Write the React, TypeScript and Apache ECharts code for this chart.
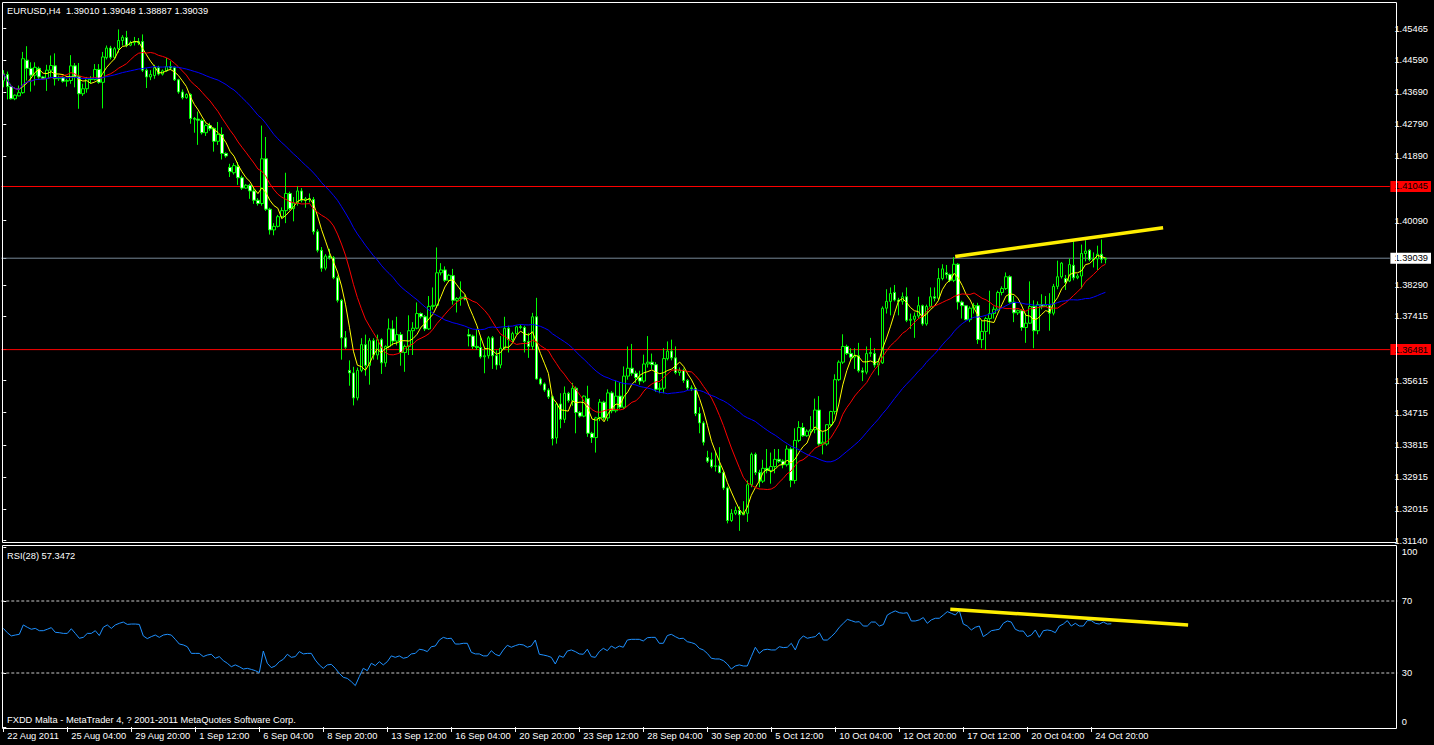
import React, { useEffect, useRef } from 'react';
import * as echarts from 'echarts';

// [open, close, low, high] in 1/10000 units (EURUSD, H4)
const candles: number[][] = [
[14400,14420,14382,14430],[14418,14384,14348,14426],[14384,14350,14348,14392],[14350,14360,14346,14362],[14358,14367,14357,14387],
[14367,14462,14364,14481],[14458,14435,14401,14497],[14435,14416,14370,14452],[14416,14438,14387,14452],[14435,14411,14406,14440],
[14411,14407,14403,14414],[14407,14430,14372,14445],[14430,14443,14411,14471],[14442,14406,14387,14477],[14406,14410,14400,14415],
[14410,14399,14395,14414],[14399,14401,14384,14406],[14401,14442,14392,14472],[14442,14413,14382,14450],[14413,14364,14322,14450],
[14364,14378,14358,14392],[14378,14406,14367,14411],[14406,14404,14392,14413],[14404,14432,14401,14447],[14432,14396,14392,14447],
[14396,14467,14323,14481],[14465,14492,14460,14499],[14492,14466,14460,14498],[14466,14490,14460,14495],[14490,14513,14479,14544],
[14513,14522,14499,14528],[14521,14500,14494,14540],[14500,14507,14497,14512],[14507,14510,14499,14523],[14510,14507,14500,14520],
[14510,14430,14425,14530],[14430,14411,14380,14435],[14411,14418,14402,14430],[14415,14437,14406,14445],[14437,14419,14415,14442],
[14419,14428,14415,14432],[14428,14440,14425,14464],[14440,14436,14430,14455],[14437,14403,14400,14440],[14403,14369,14364,14406],
[14369,14353,14348,14376],[14353,14362,14350,14365],[14362,14295,14280,14365],[14295,14293,14255,14299],[14293,14290,14221,14314],
[14289,14255,14250,14294],[14255,14275,14246,14280],[14275,14266,14260,14283],[14267,14231,14202,14270],[14231,14250,14221,14285],
[14250,14197,14180,14270],[14197,14190,14185,14200],[14158,14146,14131,14168],[14143,14163,14138,14170],[14160,14129,14109,14173],
[14129,14100,14095,14135],[14100,14108,14098,14111],[14108,14092,14070,14112],[14092,14066,14056,14100],[14066,14057,14051,14072],
[14057,14182,14051,14275],[14182,14041,14036,14243],[14041,13983,13970,14045],[13983,13993,13968,14002],[13993,14020,13990,14025],
[14020,14037,14015,14046],[14037,14085,14002,14143],[14085,14043,14038,14090],[14043,14058,14007,14075],[14058,14092,14051,14105],
[14092,14066,14060,14100],[14066,14070,14045,14075],[14070,14068,14060,14085],[14068,13978,13970,14075],[13978,13926,13920,13985],
[13926,13876,13866,13935],[13876,13910,13870,13915],[13910,13905,13900,13930],[13905,13849,13845,13910],[13849,13786,13780,13855],
[13786,13681,13620,13790],[13681,13655,13650,13700],[13590,13583,13547,13618],[13583,13513,13492,13600],[13513,13590,13506,13598],
[13590,13662,13585,13680],[13662,13604,13575,13690],[13604,13673,13550,13680],[13673,13633,13620,13680],[13633,13676,13620,13690],
[13676,13611,13580,13680],[13611,13657,13600,13660],[13657,13706,13652,13735],[13706,13672,13660,13730],[13672,13690,13660,13740],
[13690,13640,13603,13697],[13640,13657,13586,13662],[13657,13701,13633,13744],[13701,13708,13633,13725],[13708,13749,13705,13780],
[13749,13740,13735,13752],[13740,13706,13700,13745],[13706,13769,13703,13798],[13769,13772,13760,13822],[13772,13863,13765,13934],
[13863,13871,13856,13890],[13871,13842,13837,13881],[13842,13856,13838,13860],[13855,13786,13774,13874],[13786,13791,13752,13795],
[13791,13795,13771,13839],[13795,13790,13786,13800],[13690,13686,13657,13706],[13686,13657,13650,13690],[13657,13654,13647,13706],
[13654,13628,13623,13683],[13628,13631,13582,13652],[13631,13681,13623,13686],[13681,13631,13594,13686],[13631,13605,13592,13646],
[13605,13652,13596,13686],[13652,13708,13647,13740],[13708,13676,13640,13715],[13676,13693,13668,13698],[13693,13712,13690,13715],
[13712,13710,13705,13718],[13710,13671,13640,13715],[13671,13657,13625,13695],[13657,13740,13647,13751],[13740,13566,13564,13793],
[13566,13552,13548,13570],[13552,13535,13530,13556],[13535,13516,13510,13540],[13516,13399,13380,13520],[13401,13496,13385,13500],
[13496,13453,13428,13526],[13453,13526,13443,13545],[13526,13506,13500,13530],[13506,13540,13491,13555],[13540,13472,13414,13545],
[13472,13462,13458,13476],[13462,13518,13459,13520],[13511,13414,13404,13547],[13414,13402,13387,13418],[13402,13457,13360,13460],
[13457,13501,13448,13510],[13501,13457,13450,13505],[13457,13527,13448,13537],[13527,13477,13470,13532],[13477,13518,13472,13560],
[13518,13487,13482,13557],[13487,13574,13482,13601],[13574,13596,13564,13657],[13596,13582,13575,13664],[13582,13570,13555,13589],
[13570,13560,13550,13589],[13560,13608,13555,13634],[13608,13613,13598,13686],[13613,13606,13594,13637],[13606,13537,13530,13613],
[13537,13540,13526,13555],[13540,13623,13526,13652],[13623,13644,13618,13671],[13644,13625,13618,13676],[13625,13584,13579,13657],
[13584,13590,13575,13598],[13590,13562,13555,13595],[13562,13541,13535,13566],[13541,13539,13532,13548],[13539,13469,13462,13542],
[13469,13443,13414,13487],[13443,13389,13380,13448],[13346,13336,13331,13365],[13340,13321,13316,13360],[13321,13323,13307,13365],
[13323,13304,13302,13375],[13304,13261,13255,13308],[13261,13170,13162,13265],[13170,13190,13166,13202],[13190,13198,13185,13209],
[13198,13186,13141,13209],[13186,13193,13185,13224],[13190,13270,13166,13282],[13270,13355,13263,13360],[13355,13304,13297,13360],
[13304,13280,13263,13312],[13280,13316,13275,13340],[13316,13310,13302,13370],[13310,13321,13273,13360],[13321,13341,13302,13370],
[13341,13336,13331,13370],[13336,13326,13316,13341],[13326,13370,13321,13380],[13370,13282,13263,13375],[13282,13394,13273,13428],
[13394,13430,13389,13448],[13430,13407,13404,13443],[13407,13420,13404,13425],[13420,13424,13414,13462],[13424,13479,13414,13511],
[13479,13384,13379,13518],[13384,13389,13355,13418],[13384,13438,13379,13440],[13438,13475,13433,13477],[13475,13564,13467,13579],
[13564,13613,13560,13618],[13613,13657,13608,13691],[13657,13637,13633,13662],[13637,13627,13618,13652],[13627,13631,13594,13652],
[13631,13589,13584,13667],[13589,13585,13560,13598],[13585,13637,13579,13657],[13637,13640,13628,13681],[13637,13605,13598,13652],
[13605,13611,13576,13623],[13611,13764,13608,13769],[13764,13783,13749,13817],[13783,13805,13744,13822],[13808,13787,13783,13829],
[13787,13783,13744,13793],[13783,13796,13774,13808],[13796,13730,13725,13822],[13730,13733,13706,13749],[13733,13742,13681,13752],
[13742,13771,13735,13796],[13771,13720,13715,13774],[13720,13769,13715,13774],[13769,13796,13764,13822],[13796,13792,13783,13822],
[13792,13847,13786,13876],[13847,13874,13842,13887],[13863,13858,13847,13885],[13858,13842,13837,13861],[13842,13887,13837,13907],
[13887,13781,13760,13890],[13781,13771,13735,13785],[13771,13732,13730,13771],[13732,13764,13725,13769],[13764,13771,13749,13779],
[13771,13676,13664,13779],[13676,13699,13652,13730],[13699,13735,13647,13740],[13735,13749,13691,13813],[13749,13761,13735,13769],
[13761,13808,13757,13813],[13808,13819,13800,13825],[13819,13852,13815,13864],[13852,13781,13777,13856],[13781,13751,13725,13798],
[13751,13757,13745,13760],[13757,13710,13701,13761],[13710,13722,13667,13749],[13722,13769,13720,13839],[13769,13701,13652,13786],
[13701,13774,13691,13783],[13774,13769,13761,13803],[13769,13773,13768,13798],[13771,13750,13701,13806],[13750,13825,13744,13832],
[13825,13852,13817,13897],[13852,13890,13847,13893],[13847,13836,13815,13857],[13840,13886,13837,13903],[13884,13849,13842,13952],
[13849,13854,13845,13860],[13854,13917,13819,13942],[13917,13924,13895,13954],[13926,13900,13895,13929],[13900,13902,13878,13920],
[13902,13915,13871,13939],[13915,13901,13890,13956],[13901,13904,13889,13905]
];

const rsi28: number[] = [
54.8,52.4,50.6,51.1,51.5,56.7,55.4,54.3,54.8,53.5,53.5,54.3,55.2,52.6,52.4,52.0,52.0,54.6,52.0,49.3,
49.8,52.0,52.0,53.5,50.8,55.4,56.7,54.8,56.7,57.6,58.3,57.0,57.2,57.2,57.0,50.6,49.1,50.2,51.1,49.8,
51.1,51.5,51.1,48.7,46.1,45.6,44.6,40.9,40.9,40.9,39.1,40.0,40.4,38.2,39.1,36.9,35.4,33.5,34.5,33.5,
32.2,32.6,32.0,31.3,30.2,42.2,35.4,33.0,33.9,36.3,37.6,40.4,38.7,39.1,41.9,40.6,40.9,40.9,37.2,34.5,
32.6,34.5,34.8,32.6,29.8,27.6,27.0,25.2,23.0,28.0,32.6,31.3,35.4,34.1,36.3,34.5,36.3,39.5,38.7,39.5,
38.2,38.7,40.6,40.9,43.2,42.8,41.9,44.6,45.0,48.3,49.8,49.1,49.3,46.1,46.1,46.5,46.5,41.5,40.6,40.6,
39.5,39.5,42.4,40.4,39.5,42.8,45.4,44.3,45.2,45.9,45.6,44.3,45.0,48.3,40.4,40.0,39.5,38.7,35.0,39.6,
38.7,42.2,42.8,41.9,40.6,40.4,43.2,39.1,38.7,41.9,43.7,42.4,45.0,43.7,45.0,44.3,48.3,48.7,48.7,48.7,
47.8,49.6,49.8,49.8,46.5,46.5,50.8,51.5,50.2,49.1,49.3,47.4,46.9,46.1,43.7,42.8,40.9,38.2,37.8,37.8,
36.9,35.0,32.2,33.9,34.5,33.9,33.9,39.1,44.3,40.9,42.8,43.2,42.8,42.8,44.6,44.1,44.3,46.5,42.8,48.3,
50.6,49.3,49.8,50.2,52.4,48.3,48.3,50.2,52.4,55.4,57.6,59.8,59.1,58.3,58.5,56.1,56.1,58.3,58.3,56.1,
56.9,62.2,63.5,64.5,63.5,63.2,63.5,58.9,58.9,59.5,60.8,57.6,59.5,60.4,60.4,62.2,64.1,63.2,62.2,64.6,
57.2,56.1,53.9,55.4,56.1,50.2,51.7,53.5,53.9,54.3,57.6,58.9,58.3,54.3,53.3,53.3,50.2,51.1,53.9,49.8,
53.5,53.9,53.5,52.4,56.1,57.2,59.1,56.1,57.6,56.1,56.1,59.1,59.1,57.6,57.2,58.3,57.2,57.35
];

const xLabels = ['22 Aug 2011','25 Aug 04:00','29 Aug 20:00','1 Sep 12:00','6 Sep 04:00','8 Sep 20:00','13 Sep 12:00',
  '16 Sep 04:00','20 Sep 20:00','23 Sep 12:00','28 Sep 04:00','30 Sep 20:00','5 Oct 12:00','10 Oct 04:00',
  '12 Oct 20:00','17 Oct 12:00','20 Oct 04:00','24 Oct 20:00'];
const priceTicks = [1.45465,1.4459,1.4369,1.4279,1.4189,1.41045,1.4009,1.39039,1.3829,1.37415,1.36481,1.35615,1.34715,1.33815,1.32915,1.32015,1.3114];
const rsiTicks = [100, 70, 30, 0];
const rsiLevels = [70, 30];
const redLevels = [1.41045, 1.36481];
const bidLevel = 1.39039;
const priceTrend = [[239.25, 1.39086], [291.5, 1.39892]];
const rsiTrend = [[236.75, 65.4], [296.2, 56.7]];
const maSpecs = [
  { period: 5, color: '#ffff00' },
  { period: 13, color: '#ff0000' },
  { period: 34, color: '#0000ff' },
];
const titleText = 'EURUSD,H4  1.39010 1.39048 1.38887 1.39039';
const rsiText = 'RSI(28) 57.3472';
const footerText = 'FXDD Malta - MetaTrader 4, ? 2001-2011 MetaQuotes Software Corp.';

const SLOTS = 349;
const BARS_PER_LABEL = 16;
const FONT = '"Liberation Sans", Arial, sans-serif';
const FS = 9.3;

export default function App() {
  const ref = useRef<HTMLDivElement>(null);
  useEffect(() => {
    document.body.style.margin = '0';
    document.body.style.background = '#000';
    const chart = echarts.init(ref.current!, null, { renderer: 'svg' });
    const closes = candles.map((c) => c[1] / 1e4);
    const ohlc = candles.map((c, i) => [i, c[0] / 1e4, c[1] / 1e4, c[2] / 1e4, c[3] / 1e4]);
    const sma = (n: number) =>
      closes.map((_, i) => {
        const s = Math.max(0, i - n + 1);
        let sum = 0;
        for (let k = s; k <= i; k++) sum += closes[k];
        return [i, sum / (i - s + 1)];
      });
    const xTickPos = xLabels.map((_, k) => k * BARS_PER_LABEL);
    const near = (a: number, b: number) => Math.abs(a - b) < 1e-7;
    const tok = { fontSize: FS, fontFamily: FONT, padding: [1, 3, 1, 4] };
    const txt = (text: string, x: number, y: number) => ({
      type: 'text', x, y, z: 100, silent: true,
      style: { text, fill: '#fff', fontSize: FS, fontFamily: FONT, verticalAlign: 'middle', align: 'left' },
    });
    const PMAX = 1.3114 + 538 / 3574;
    const PMIN = 1.3114 - 2.5 / 3574;
    const hLine = (y: number, color: string, xi = 0, yi = 0, type: any = 'solid') => ({
      type: 'line', xAxisIndex: xi, yAxisIndex: yi, silent: true, showSymbol: false, z: 1,
      data: [[-0.5, y], [SLOTS - 0.5, y]], lineStyle: { color, width: 1, type },
    });

    chart.setOption({
      animation: false,
      backgroundColor: '#000',
      grid: [
        { left: 1.3, right: 36.7, top: 2.5, height: 540.5 },
        { left: 1.3, right: 36.7, top: 547, height: 180 },
      ],
      xAxis: [
        { gridIndex: 0, type: 'value', min: -0.5, max: SLOTS - 0.5, show: false },
        {
          gridIndex: 1, type: 'value', min: -0.5, max: SLOTS - 0.5,
          axisLine: { show: false }, splitLine: { show: false },
          axisTick: { show: true, customValues: xTickPos, length: 5, lineStyle: { color: '#fff' } },
          axisLabel: {
            customValues: xTickPos,
            formatter: (v: number) => xLabels[Math.round(v / BARS_PER_LABEL)] ?? '',
            color: '#fff', fontSize: FS, fontFamily: FONT, align: 'left', margin: 4, padding: [0, 0, 0, 4],
          },
        },
      ],
      yAxis: [
        {
          gridIndex: 0, type: 'value', position: 'right', min: PMIN, max: PMAX,
          splitLine: { show: false }, axisLine: { show: false },
          axisTick: { show: true, customValues: priceTicks, length: 3, lineStyle: { color: '#fff' } },
          axisLabel: {
            customValues: priceTicks, margin: 0.5,
            formatter: (v: number) => {
              const s = v.toFixed(5);
              if (redLevels.some((r) => near(r, v))) return `{red|${s}}`;
              if (near(bidLevel, v)) return `{bid|${s}}`;
              return `{n|${s}}`;
            },
            rich: {
              n: { ...tok, color: '#fff' },
              red: { ...tok, color: '#000', backgroundColor: '#ff0000' },
              bid: { ...tok, color: '#000', backgroundColor: '#ffffff' },
            },
          },
        },
        {
          gridIndex: 1, type: 'value', position: 'right', min: 0, max: 100,
          splitLine: { show: false }, axisLine: { show: false },
          axisTick: { show: true, customValues: rsiTicks, length: 3, lineStyle: { color: '#fff' } },
          axisLabel: {
            customValues: rsiTicks, margin: 0.5,
            formatter: (v: number) => (v === 100 ? `{top|${v}}` : v === 0 ? `{bot|${v}}` : `{n|${v}}`),
            rich: {
              n: { ...tok, color: '#fff' },
              top: { ...tok, color: '#fff', padding: [11, 3, 1, 4] },
              bot: { ...tok, color: '#fff', padding: [1, 3, 11, 4] },
            },
          },
        },
      ],
      series: [
        ...redLevels.map((y) => hLine(y, '#ff0000')),
        hLine(bidLevel, '#778899'),
        ...rsiLevels.map((y) => hLine(y, '#c8c8c8', 1, 1, [3, 2])),
        {
          type: 'candlestick', xAxisIndex: 0, yAxisIndex: 0, data: ohlc, barWidth: 3, z: 2,
          itemStyle: { color: '#000000', color0: '#ffffff', borderColor: '#00ff00', borderColor0: '#00ff00', borderWidth: 1 },
        },
        ...maSpecs.map((m) => ({
          type: 'line', xAxisIndex: 0, yAxisIndex: 0, data: sma(m.period), showSymbol: false, z: 3,
          lineStyle: { color: m.color, width: 1 }, silent: true,
        })),
        {
          type: 'line', xAxisIndex: 0, yAxisIndex: 0, data: priceTrend, showSymbol: false, z: 4,
          lineStyle: { color: '#ffee00', width: 3.5 }, silent: true,
        },
        {
          type: 'line', xAxisIndex: 1, yAxisIndex: 1, data: rsi28.map((v, i) => [i, v]), showSymbol: false, z: 3,
          lineStyle: { color: '#1e90ff', width: 1 }, silent: true,
        },
        {
          type: 'line', xAxisIndex: 1, yAxisIndex: 1, data: rsiTrend, showSymbol: false, z: 4,
          lineStyle: { color: '#ffee00', width: 3.5 }, silent: true,
        },
      ],
      graphic: [
        { type: 'rect', z: 100, silent: true, shape: { x: 2.5, y: 2.5, width: 1394, height: 540 }, style: { fill: 'none', stroke: '#fff', lineWidth: 1 } },
        { type: 'rect', z: 100, silent: true, shape: { x: 2.5, y: 545.5, width: 1394, height: 183 }, style: { fill: 'none', stroke: '#fff', lineWidth: 1 } },
        txt(titleText, 7, 10.5),
        txt(rsiText, 7, 555.5),
        txt(footerText, 7, 720),
      ],
    });
    return () => chart.dispose();
  }, []);
  return <div ref={ref} style={{ width: 1434, height: 745 }} />;
}
